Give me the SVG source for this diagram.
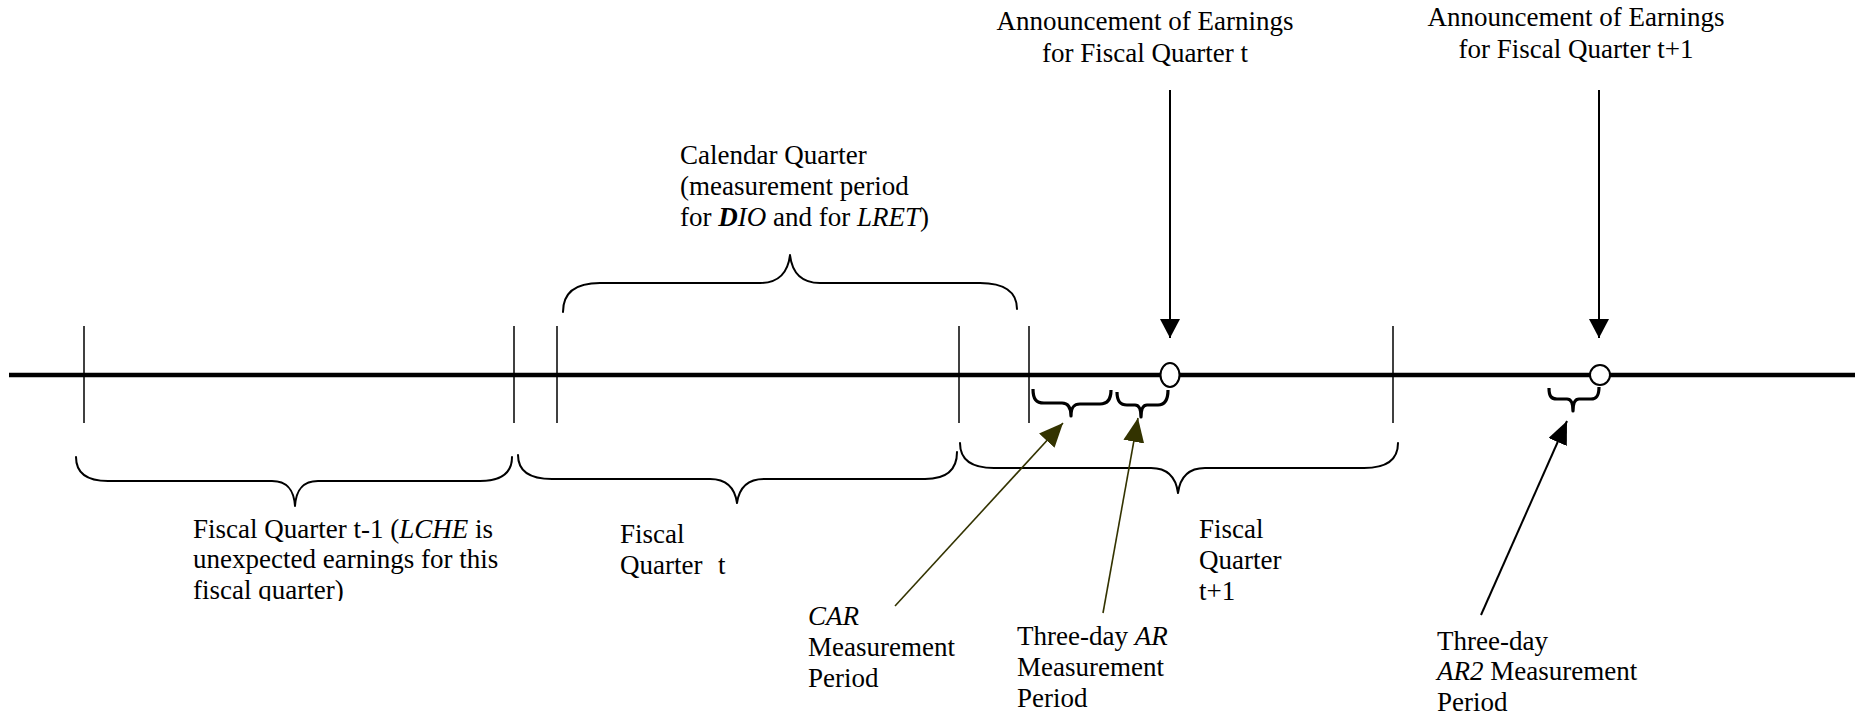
<svg xmlns="http://www.w3.org/2000/svg" width="1855" height="716" viewBox="0 0 1855 716">
<style>
text{font-family:"Liberation Serif","Times New Roman",serif;font-size:27px;fill:#000}
.c{text-anchor:middle}
.i{font-style:italic}
.bi{font-style:italic;font-weight:bold}
.tick{stroke:#000;stroke-width:1.5;fill:none}
.brace{stroke:#000;stroke-width:2;fill:none;stroke-linecap:round;stroke-linejoin:round}
.sbrace{stroke:#000;stroke-width:3.2;fill:none;stroke-linejoin:round}
.blk{stroke:#000;stroke-width:2;fill:none}
.olv{stroke:#333300;stroke-width:1.6;fill:none}
</style>
<defs>
<marker id="ahBlk" markerUnits="userSpaceOnUse" markerWidth="24" markerHeight="24" refX="19" refY="10" orient="auto">
<path d="M0,0 L19,10 L0,20 z" fill="#000"/>
</marker>
<marker id="ahBlk2" markerUnits="userSpaceOnUse" markerWidth="26" markerHeight="24" refX="23" refY="10" orient="auto">
<path d="M0,0 L23,10 L0,20 z" fill="#000"/>
</marker>
<marker id="ahOlv" markerUnits="userSpaceOnUse" markerWidth="28" markerHeight="24" refX="24" refY="10.5" orient="auto">
<path d="M0,0 L24,10.5 L0,21 z" fill="#333300"/>
</marker>
<clipPath id="clipT1"><rect x="150" y="500" width="400" height="101"/></clipPath>
</defs>

<g id="timeline">
<line x1="9" y1="375" x2="1855" y2="375" stroke="#000" stroke-width="4.5"/>
<line class="tick" x1="84" y1="326" x2="84" y2="423"/>
<line class="tick" x1="514" y1="326" x2="514" y2="423"/>
<line class="tick" x1="557" y1="326" x2="557" y2="423"/>
<line class="tick" x1="959" y1="326" x2="959" y2="423"/>
<line class="tick" x1="1029" y1="326" x2="1029" y2="423"/>
<line class="tick" x1="1393" y1="326" x2="1393" y2="423"/>
</g>

<g id="fiscal-quarter-t-1">
<path class="brace" d="M76,457 C76,474 88,481 108,481 L272,481 C289,481 294,492 295,506 C296,492 301,481 318,481 L480,481 C500,481 512,474 512,457"/>
<text x="193" y="538">Fiscal Quarter t-1 (<tspan class="i">LCHE</tspan> is</text>
<text x="193" y="568">unexpected earnings for this</text>
<g clip-path="url(#clipT1)"><text x="193" y="599">fiscal quarter)</text></g>
</g>

<g id="fiscal-quarter-t">
<path class="brace" d="M518,455 C518,472 530,479 552,479 L710,479 C728,479 735,489 737,503 C739,489 746,479 764,479 L925,479 C946,479 957,470 957,452"/>
<text x="620" y="543">Fiscal</text>
<text x="620" y="574">Quarter<tspan x="718">t</tspan></text>
</g>

<g id="fiscal-quarter-t1">
<path class="brace" d="M960,443 C960,460 972,468 994,468 L1151,468 C1169,468 1176,478 1178,493 C1180,478 1187,468 1205,468 L1364,468 C1386,468 1398,460 1398,443"/>
<text x="1199" y="538">Fiscal</text>
<text x="1199" y="569">Quarter</text>
<text x="1199" y="600">t+1</text>
</g>

<g id="calendar-quarter">
<path class="brace" d="M563,312 C563,292 576,283 600,283 L760,283 C779,283 788,272 790,255 C792,272 801,283 820,283 L980,283 C1004,283 1017,292 1017,309"/>
<text x="680" y="164">Calendar Quarter</text>
<text x="680" y="195">(measurement period</text>
<text x="680" y="226">for <tspan class="bi">D</tspan><tspan class="i">IO</tspan> and for <tspan class="i">LRET</tspan>)</text>
</g>

<g id="announcement-t">
<text class="c" x="1145" y="30">Announcement of Earnings</text>
<text class="c" x="1145" y="62">for Fiscal Quarter t</text>
<ellipse cx="1170" cy="375" rx="9.5" ry="12" fill="#fff" stroke="#000" stroke-width="2"/>
</g>

<g id="announcement-t1">
<text class="c" x="1576" y="26">Announcement of Earnings</text>
<text class="c" x="1576" y="58">for Fiscal Quarter t+1</text>
<circle cx="1600" cy="375" r="10" fill="#fff" stroke="#000" stroke-width="2"/>
</g>

<g id="car-period">
<path class="sbrace" d="M1033,389 C1033,399 1036,403 1044,403 L1062,403 C1068,403 1071,407 1071,416 C1071,407 1074,404 1080,404 L1100,404 C1108,404 1111,399 1111,390"/>
<text class="i" x="808" y="625">CAR</text>
<text x="808" y="656">Measurement</text>
<text x="808" y="687">Period</text>
</g>

<g id="ar-period">
<path class="sbrace" d="M1117,392 C1117,401 1120,405 1127,405 L1135,405 C1139,405 1141,409 1141,417 C1141,409 1143,405 1147,405 L1158,405 C1165,405 1168,400 1168,390"/>
<text x="1017" y="645">Three-day <tspan class="i">AR</tspan></text>
<text x="1017" y="676">Measurement</text>
<text x="1017" y="707">Period</text>
</g>

<g id="ar2-period">
<path class="sbrace" d="M1549,388 C1549,396 1551,399 1557,399 L1567,399 C1571,399 1573,403 1573,411 C1573,403 1575,399 1579,399 L1591,399 C1597,399 1599,395 1599,387"/>
<text x="1437" y="650">Three-day</text>
<text x="1437" y="680"><tspan class="i">AR2</tspan> Measurement</text>
<text x="1437" y="711">Period</text>
</g>

<g id="connectors">
<line class="blk" x1="1170" y1="90" x2="1170" y2="338" marker-end="url(#ahBlk)"/>
<line class="blk" x1="1599" y1="90" x2="1599" y2="338" marker-end="url(#ahBlk)"/>
<line class="olv" x1="895" y1="606" x2="1063" y2="423" marker-end="url(#ahOlv)"/>
<line class="olv" x1="1103" y1="613" x2="1138" y2="418" marker-end="url(#ahOlv)"/>
<line class="blk" x1="1481" y1="615" x2="1567" y2="421" marker-end="url(#ahBlk2)"/>
</g>
</svg>
